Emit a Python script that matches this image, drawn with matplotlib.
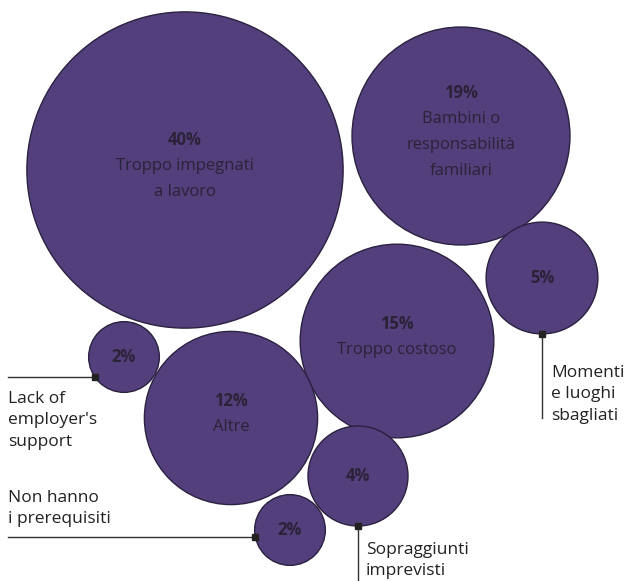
import numpy as np
import matplotlib.pyplot as plt
from matplotlib.patches import Circle

# Reasons, share of respondents (%)
shares = [40, 19, 15, 5, 2, 12, 4, 2]
inner_labels = [
    ["Troppo impegnati", "a lavoro"],
    ["Bambini o", "responsabilità", "familiari"],
    ["Troppo costoso"],
    [],
    [],
    ["Altre"],
    [],
    [],
]
outer_labels = [
    None,
    None,
    None,
    "Momenti\ne luoghi\nsbagliati",
    "Lack of\nemployer's\nsupport",
    None,
    "Sopraggiunti\nimprevisti",
    "Non hanno\ni prerequisiti",
]

# packed layout (pixel space, y down)
centers = [(185, 170), (461, 136), (397, 341), (542, 278),
           (124, 357), (231, 418), (358, 476), (290, 530)]
scale = 25.0  # radius per sqrt(percent)

FILL = "#543f7d"
EDGE = "#2b2140"
INK = "#2a2236"
LINE = "#333333"

W, H = 626, 581
fig = plt.figure(figsize=(W / 100, H / 100), dpi=100, facecolor="white")
ax = fig.add_axes([0, 0, 1, 1])
ax.set_xlim(0, W)
ax.set_ylim(H, 0)
ax.set_aspect("equal")
ax.axis("off")

font = ["Open Sans", "DejaVu Sans"]
step = 26

for pct, (cx, cy), lines in zip(shares, centers, inner_labels):
    r = scale * np.sqrt(pct)
    ax.add_patch(Circle((cx, cy), r, facecolor=FILL, edgecolor=EDGE, lw=1.0, zorder=2))
    n = len(lines) + 1
    y0 = cy - (n - 1) / 2 * step - (4 if n > 1 else 0)
    ax.text(cx, y0, f"{pct}%", ha="center", va="center", fontsize=12,
            fontweight="bold", color=INK, family=font, zorder=3)
    for k, line in enumerate(lines, start=1):
        ax.text(cx, y0 + k * step, line, ha="center", va="center", fontsize=12,
                color=INK, family=font, zorder=3)


def marker(x, y):
    ax.plot(x, y, marker="s", ms=4, color="#222222", zorder=4)


lab = dict(fontsize=12.5, color="#222222", family=font, linespacing=1.45)

# callouts to the left (horizontal leader lines)
for i, ty, ly in [(4, 391, 377), (7, 490, 537)]:
    cx, cy = centers[i]
    r = scale * np.sqrt(shares[i])
    ex = cx - np.sqrt(max(r ** 2 - (ly - cy) ** 2, 0))
    ax.plot([8, ex], [ly, ly], color=LINE, lw=1.0, zorder=1)
    marker(ex, ly)
    ax.text(8, ty, outer_labels[i], ha="left", va="top", **lab)

# callouts below (vertical leader lines)
for i, ly_end, tx, ty in [(3, 418, 551, 365), (6, 581, 366, 542)]:
    cx, cy = centers[i]
    r = scale * np.sqrt(shares[i])
    by = cy + r
    ax.plot([cx, cx], [by, ly_end], color=LINE, lw=1.0, zorder=1)
    marker(cx, by)
    ax.text(tx, ty, outer_labels[i], ha="left", va="top", **lab)

fig.savefig("out.png", dpi=100, facecolor="white")
